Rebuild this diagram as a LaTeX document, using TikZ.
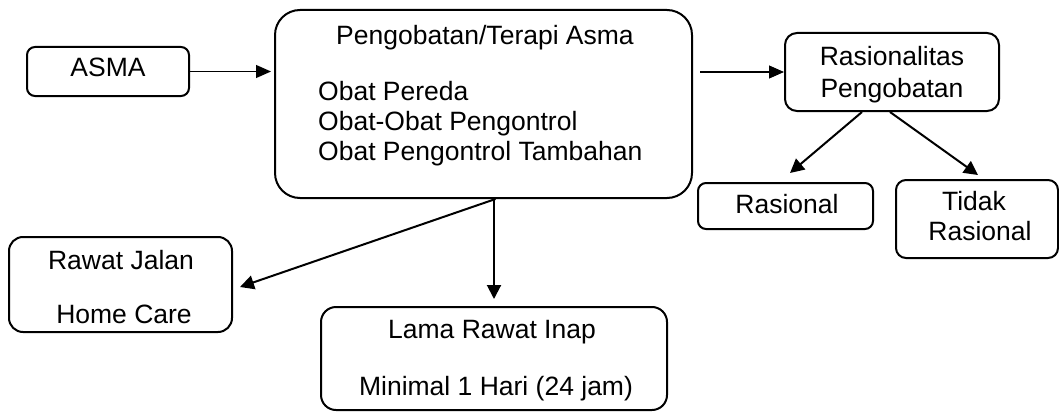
\documentclass[tikz,border=0pt]{standalone}
\usepackage{fontspec}
\setmainfont{Liberation Sans}
\usetikzlibrary{arrows.meta}
\begin{document}
\begin{tikzpicture}[x=1pt,y=-1pt,
  box/.style={draw=black,line width=2pt,minimum width=#1,inner sep=0pt},
  lbl/.style={font=\fontsize{26.5}{30}\selectfont,inner sep=0pt,anchor=base},
  thin/.style={line width=1.1pt,-{Triangle[length=15pt,width=13pt]}},
  thick/.style={line width=2pt,-{Triangle[length=14pt,width=14pt]}}]
\useasboundingbox[fill=white] (0,0) rectangle (1059,412);
% boxes
\node[box=162pt,minimum height=49pt,rounded corners=8pt] (asma) at (108,71.5) {};
\node[box=417pt,minimum height=188pt,rounded corners=25pt] (main) at (483.5,104) {};
\node[box=214pt,minimum height=78pt,rounded corners=12pt] (rasio) at (892,72) {};
\node[box=175pt,minimum height=46pt,rounded corners=8pt] (rasional) at (785.5,206) {};
\node[box=162pt,minimum height=78pt,rounded corners=10pt] (tidak) at (977,219) {};
\node[box=223pt,minimum height=95pt,rounded corners=14pt] (rawat) at (120.5,284.5) {};
\node[box=346pt,minimum height=103pt,rounded corners=15pt] (lama) at (494,358.5) {};
% texts
\node[lbl] (tasma) at (108,76) {ASMA};
\node[lbl] (tmain) at (485,45) {Pengobatan/Terapi Asma};
\node[lbl,anchor=base west] (t1) at (318,100) {Obat Pereda};
\node[lbl,anchor=base west] (t2) at (318,130) {Obat-Obat Pengontrol};
\node[lbl,anchor=base west] (t3) at (318,160.5) {Obat Pengontrol Tambahan};
\node[lbl] (tr1) at (892,65) {Rasionalitas};
\node[lbl] (tr2) at (892,97) {Pengobatan};
\node[lbl] (trs) at (787,213) {Rasional};
\node[lbl] (tt1) at (974,210) {Tidak};
\node[lbl] (tt2) at (980,240) {Rasional};
\node[lbl] (tw1) at (121,269) {Rawat Jalan};
\node[lbl] (tw2) at (124,323) {Home Care};
\node[lbl] (tl1) at (492,338) {Lama Rawat Inap};
\node[lbl] (tl2) at (496,395) {Minimal 1 Hari (24 jam)};
% connectors
\draw[thin,shorten >=3pt] (asma.east) -- (asma.east -| main.west);
\draw[thin,shorten <=7pt] (rasio.west -| main.east) -- (rasio.west);
\draw[thick] ([xshift=-30pt]rasio.south) -- ([xshift=4.5pt,yshift=9pt]rasional.north);
\draw[thick] ([xshift=-2pt]rasio.south) -- ([xshift=1pt,yshift=4pt]tidak.north);
\draw[thick,shorten >=7pt] (lama.north |- main.south) -- (lama.north);
\draw[thick] ([xshift=12pt]main.south) -- ([xshift=7pt,yshift=-2.5pt]rawat.east);
\end{tikzpicture}
\end{document}
